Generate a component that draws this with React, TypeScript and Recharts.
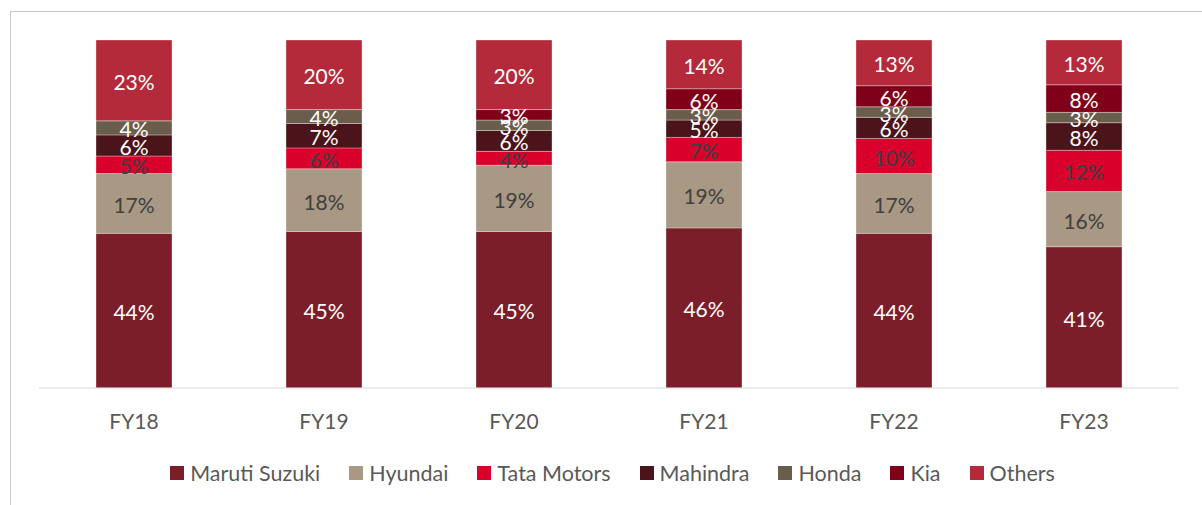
import { BarChart, Bar, XAxis, YAxis, LabelList, Legend } from 'recharts';

const YEARS = ['FY18', 'FY19', 'FY20', 'FY21', 'FY22', 'FY23'];
const MARUTI = [44, 45, 45, 46, 44, 41];
const HYUNDAI = [17, 18, 19, 19, 17, 16];
const TATA = [5, 6, 4, 7, 10, 12];
const MAHINDRA = [6, 7, 6, 5, 6, 8];
const HONDA = [4, 4, 3, 3, 3, 3];
const KIA = [0, 0, 3, 6, 6, 8];
const OTHERS = [23, 20, 20, 14, 13, 13];

const SERIES = [
  { key: 'maruti', name: 'Maruti Suzuki', values: MARUTI, color: '#7b1e2a', text: '#ffffff' },
  { key: 'hyundai', name: 'Hyundai', values: HYUNDAI, color: '#a89884', text: '#404040' },
  { key: 'tata', name: 'Tata Motors', values: TATA, color: '#d9002b', text: '#404040' },
  { key: 'mahindra', name: 'Mahindra', values: MAHINDRA, color: '#4a141a', text: '#ffffff' },
  { key: 'honda', name: 'Honda', values: HONDA, color: '#6b5d4c', text: '#ffffff' },
  { key: 'kia', name: 'Kia', values: KIA, color: '#80001a', text: '#ffffff' },
  { key: 'others', name: 'Others', values: OTHERS, color: '#b42a3a', text: '#ffffff' },
];

const data = YEARS.map((year, i) => {
  const row: Record<string, any> = { year };
  SERIES.forEach((s) => { row[s.key] = s.values[i]; });
  return row;
});

const FONT = 'Lato, "Noto Sans", sans-serif';

const makeLabel = (color: string) => (props: any) => {
  const { x, y, width, height, value } = props;
  if (!value) return null;
  return (
    <text
      x={x + width / 2}
      y={y + height / 2 + 1}
      fill={color}
      fontSize={21}
      fontFamily={FONT}
      textAnchor="middle"
      dominantBaseline="central"
    >
      {value}%
    </text>
  );
};

const renderLegend = () => (
  <div style={{ display: 'flex', justifyContent: 'center', fontFamily: FONT, fontSize: 21.5, color: '#595959', paddingLeft: 36, paddingTop: 5 }}>
    {SERIES.map((s) => (
      <div key={s.key} style={{ display: 'flex', alignItems: 'center', marginRight: 29 }}>
        <span style={{ width: 14, height: 14, background: s.color, display: 'inline-block', marginRight: 6 }} />
        <span>{s.name}</span>
      </div>
    ))}
  </div>
);

export default function App() {
  return (
    <div style={{ position: 'absolute', left: 0, top: 0, width: 1202, height: 505, background: '#fff' }}>
      <div style={{ position: 'absolute', left: 10, top: 11, width: 1200, height: 500, border: '1px solid #c8c8c8' }} />
      <div style={{ position: 'absolute', left: 0, top: 0 }}>
        <BarChart
          width={1202}
          height={505}
          data={data}
          stackOffset="expand"
          barCategoryGap="30%"
          margin={{ top: 40, right: 23, left: 39, bottom: 0 }}
        >
          <XAxis
            dataKey="year"
            stroke="#d9d9d9"
            tickLine={false}
            tick={{ fill: '#595959', fontSize: 21, fontFamily: FONT }}
            tickMargin={20}
            height={67}
          />
          <YAxis hide domain={[0, 1]} />
          <Legend verticalAlign="bottom" height={50} content={renderLegend} />
          {SERIES.map((s) => (
            <Bar
              key={s.key}
              dataKey={s.key}
              name={s.name}
              stackId="a"
              fill={s.color}
              stroke="#ffffff"
              strokeOpacity={0.4}
              strokeWidth={0.8}
              isAnimationActive={false}
            >
              <LabelList dataKey={s.key} content={makeLabel(s.text)} />
            </Bar>
          ))}
        </BarChart>
      </div>
    </div>
  );
}
